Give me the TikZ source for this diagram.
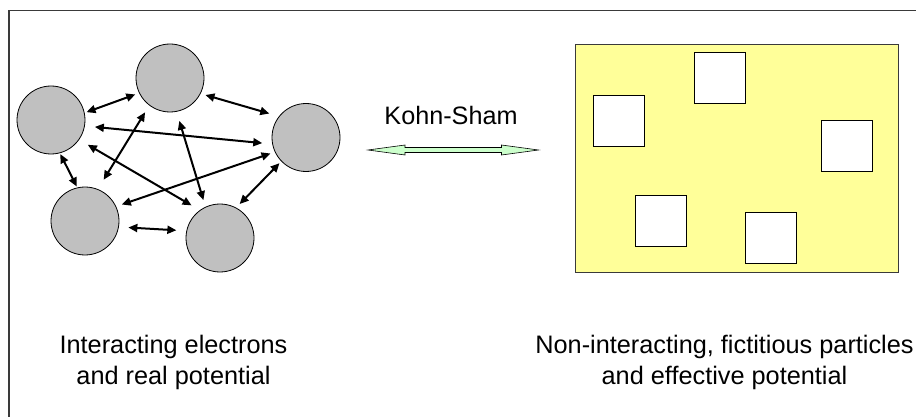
\documentclass[tikz,border=0pt]{standalone}
\usepackage{fontspec}
\setmainfont{Liberation Sans}
\usetikzlibrary{arrows.meta}
\definecolor{electron}{HTML}{C0C0C0}
\definecolor{paper}{HTML}{FFFF99}
\definecolor{ksgreen}{HTML}{CCFFCC}
\definecolor{frame}{HTML}{3A3A3A}
\tikzset{
  electron/.style={circle, draw=black, line width=0.8pt, fill=electron,
    minimum size=68pt, inner sep=0pt},
  particle/.style={rectangle, draw=black, line width=0.9pt, fill=white,
    minimum size=51pt, inner sep=0pt},
  interaction/.style={line width=2pt,
    {Triangle[length=9pt,width=8pt]}-{Triangle[length=9pt,width=8pt]}},
  caption/.style={font=\fontsize{25.3}{31}\selectfont, align=center, inner sep=0pt}
}
\begin{document}
\begin{tikzpicture}[x=1pt,y=-1pt]
  \useasboundingbox (0,0) rectangle (916,417);
  \fill[white] (0,0) rectangle (916,417);

  % slide frame (top and left edges)
  \draw[frame, line width=1.4pt] (9,417) -- (9,10.5) -- (916,10.5);

  % interacting electrons
  \node[electron] (c1) at (51,120) {};
  \node[electron] (c2) at (170,78) {};
  \node[electron] (c3) at (306,137.5) {};
  \node[electron] (c4) at (85,221) {};
  \node[electron] (c5) at (220,238) {};

  \draw[interaction, shorten <=2pt,  shorten >=4pt]  (c1.12.9)  -- (c2.206.6);
  \draw[interaction, shorten <=5pt,  shorten >=10pt] (c2.-27.2) -- (c3.142.9);
  \draw[interaction, shorten <=10pt, shorten >=10pt] (c1.-10.3) -- (c3.191);
  \draw[interaction, shorten <=1pt,  shorten >=1pt]  (c1.-75)   -- (c4.103.2);
  \draw[interaction, shorten <=10pt, shorten >=9.5pt](c1.-35.8) -- (c5.126.6);
  \draw[interaction, shorten <=8pt,  shorten >=11pt] (c2.233.7) -- (c4.68);
  \draw[interaction, shorten <=9.5pt,shorten >=7pt]  (c2.-79.5) -- (c5.115.9);
  \draw[interaction, shorten <=6pt,  shorten >=4.5pt](c4.25.3)  -- (c3.205.2);
  \draw[interaction, shorten <=5pt,  shorten >=2.5pt](c5.62.8)  -- (c3.224.4);
  \draw[interaction, shorten <=9.5pt,shorten >=10pt] (c4.-10.5) -- (c5.168.2);

  % Kohn-Sham mapping
  \node[font=\fontsize{25.2}{30}\selectfont, anchor=base, inner sep=0pt] (ks) at (451,125) {Kohn-Sham};
  \coordinate (ksl) at (368,150);
  \coordinate (ksr) at (538.5,150);
  \draw[black, line width=0.6pt, fill=ksgreen]
    (ksl) -- ++(37,-5) -- ++(0,2.5) -- ++(96.5,0) -- ++(0,-2.5)
    -- (ksr) -- ++(-37,5) -- ++(0,-2.5) -- ++(-96.5,0) -- ++(0,2.5) -- cycle;

  % non-interacting system
  \node[rectangle, draw=frame, line width=1.3pt, fill=paper, inner sep=0pt,
    minimum width=322.5pt, minimum height=227.5pt] (box) at (737,158.5) {};
  \node[particle] (p1) at (618.5,120.5) {};
  \node[particle] (p2) at (720,78.3) {};
  \node[particle] (p3) at (847,145.7) {};
  \node[particle] (p4) at (661,221) {};
  \node[particle] (p5) at (771,238) {};

  % captions (base anchor sits on the last line)
  \node[caption, anchor=base] (capl) at (173.5,384) {Interacting electrons\\and real potential};
  \node[caption, anchor=base] (capr) at (724.5,384) {Non-interacting, fictitious particles\\and effective potential};
\end{tikzpicture}
\end{document}
